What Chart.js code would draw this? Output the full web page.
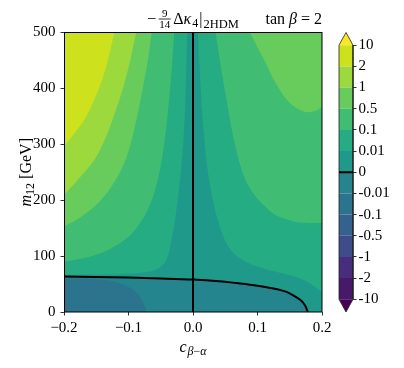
<!DOCTYPE html>
<html lang="en">
<head>
<meta charset="UTF-8">
<title>Delta kappa4 contour</title>
<script src="https://cdn.jsdelivr.net/npm/chart.js@4.4.1/dist/chart.umd.min.js"></script>
<style>
  body { margin: 0; background: #fff; }
  .wrap { position: relative; width: 404px; height: 368px; }
  #main { position: absolute; left: 0; top: 0; }
  #cbar { position: absolute; left: 330px; top: 0; }
</style>
</head>
<body>
<div class="wrap">
  <canvas id="main" width="404" height="368"></canvas>
  <canvas id="cbar" width="74" height="368"></canvas>
</div>
<script>
// contour levels (colorbar tick labels) and band colours from bottom to top
const levelLabels = ['-10', '-2', '-1', '-0.5', '-0.1', '-0.01', '0', '0.01', '0.1', '0.5', '1', '2', '10'];
const bandColors = ['#440154', '#48186a', '#472d7b', '#3e4c8a', '#34618d', '#2c738e', '#25858e',
                    '#1f9a8a', '#25ac82', '#40bd72', '#67cc5c', '#9bd93c', '#cde11d', '#fde725'];

// axis ticks
const xTicks = [-0.2, -0.1, 0, 0.1, 0.2];
const xTickLabels = ['\u22120.2', '\u22120.1', '0.0', '0.1', '0.2'];
const yTicks = [0, 100, 200, 300, 400, 500];
const yTickLabels = ['0', '100', '200', '300', '400', '500'];

// contour lines, [c_beta-alpha, m12]
const zeroLine = [[-0.2, 63.5], [-0.15, 62.5], [-0.1, 61.5], [-0.05, 60], [0, 58], [0.04, 55], [0.073, 51],
                  [0.1, 47], [0.125, 42], [0.145, 36], [0.158, 28], [0.168, 20], [0.174, 11], [0.178, 0]];
const zeroVertical = [[0, 0], [0, 500]];
const lvl001Left = [[-0.2, 66.5], [-0.13, 67.5], [-0.09, 69.5], [-0.065, 73], [-0.052, 79], [-0.044, 88],
                    [-0.039, 100], [-0.035, 118], [-0.031, 142], [-0.027, 172], [-0.023, 208], [-0.019, 250],
                    [-0.015, 305], [-0.012, 370], [-0.009, 500]];
const lvl01Left = [[-0.2, 90], [-0.16, 99], [-0.13, 112], [-0.105, 130], [-0.088, 150], [-0.075, 172],
                   [-0.064, 200], [-0.055, 235], [-0.048, 275], [-0.042, 325], [-0.037, 380], [-0.033, 435],
                   [-0.029, 500]];
const lvl05Left = [[-0.2, 153], [-0.174, 170], [-0.143, 200], [-0.117, 242], [-0.101, 284], [-0.088, 343],
                   [-0.078, 400], [-0.07, 450], [-0.064, 500]];
const lvl1Left = [[-0.2, 209], [-0.179, 236], [-0.153, 272], [-0.138, 305], [-0.125, 343], [-0.11, 395],
                  [-0.098, 447], [-0.088, 500]];
const lvl2Left = [[-0.2, 296], [-0.185, 318], [-0.169, 343], [-0.155, 375], [-0.142, 412], [-0.132, 450],
                  [-0.122, 500]];
const lvl001Right = [[0.0075, 500], [0.011, 420], [0.016, 330], [0.022, 260], [0.029, 210], [0.037, 170],
                     [0.046, 138], [0.056, 115], [0.068, 100], [0.085, 88], [0.109, 78], [0.135, 70],
                     [0.158, 63], [0.177, 54], [0.2, 36]];
const lvl01Right = [[0.035, 500], [0.043, 440], [0.052, 379], [0.063, 310], [0.075, 256], [0.086, 226],
                    [0.099, 204], [0.115, 185], [0.13, 172], [0.15, 164], [0.166, 160], [0.2, 159]];
const lvl05Right = [[0.088, 500], [0.109, 454], [0.13, 406], [0.151, 373], [0.174, 358], [0.19, 360], [0.2, 367]];
const lvlm001Left = [[-0.2, 60], [-0.16, 59], [-0.127, 56], [-0.11, 50], [-0.092, 39], [-0.082, 27],
                     [-0.077, 16], [-0.073, 6], [-0.072, 0]];
const lvlm01Left = [[-0.2, 8], [-0.197, 4], [-0.195, 0]];

const serif = '"Liberation Serif", "DejaVu Serif", serif';

function pts(list) { return list.map(p => ({ x: p[0], y: p[1] })); }

function band(list, color, fill) {
  return {
    data: pts(list), showLine: true, fill: fill, backgroundColor: color,
    borderColor: 'rgba(0,0,0,0)', borderWidth: 0, pointRadius: 0, tension: 0.35
  };
}
function line(list, tension) {
  return {
    data: pts(list), showLine: true, fill: false, borderColor: '#000', borderWidth: 2,
    pointRadius: 0, tension: tension
  };
}

// paint order, bottom first
const layers = [
  band([[-0.2, 500], [0.2, 500]], bandColors[6], 'start'),
  band(zeroLine.concat([[0.2, 0]]), bandColors[7], 'end'),
  band(lvl001Left, bandColors[8], 'end'),
  band(lvl001Right, bandColors[8], 'end'),
  band(lvl01Left, bandColors[9], 'end'),
  band(lvl01Right, bandColors[9], 'end'),
  band(lvl05Left, bandColors[10], 'end'),
  band(lvl05Right, bandColors[10], 'end'),
  band(lvl1Left, bandColors[11], 'end'),
  band(lvl2Left, bandColors[12], 'end'),
  band(lvlm001Left, bandColors[5], 'start'),
  band(lvlm01Left, bandColors[4], 'start'),
  line(zeroLine, 0.35),
  line(zeroVertical, 0)
];
layers.forEach((d, i) => { d.order = layers.length - i; });

// small helper to lay out text pieces with sub/superscripts on the canvas
function drawRuns(ctx, items, x, y, align) {
  let w = 0;
  items.forEach(it => {
    ctx.font = (it.it ? 'italic ' : '') + it.f + 'px ' + serif;
    if (it.frac) {
      it.w = Math.max(ctx.measureText(it.frac[0]).width, ctx.measureText(it.frac[1]).width) + 2;
    } else {
      it.w = ctx.measureText(it.t).width;
    }
    w += it.w + (it.gap || 0);
  });
  let cx = align === 'center' ? x - w / 2 : align === 'right' ? x - w : x;
  ctx.textBaseline = 'alphabetic';
  ctx.textAlign = 'left';
  ctx.fillStyle = '#000';
  items.forEach(it => {
    ctx.font = (it.it ? 'italic ' : '') + it.f + 'px ' + serif;
    if (it.frac) {
      const bar = y - 5;
      const n = ctx.measureText(it.frac[0]).width, d = ctx.measureText(it.frac[1]).width;
      ctx.fillText(it.frac[0], cx + (it.w - n) / 2, bar - 2);
      ctx.fillText(it.frac[1], cx + (it.w - d) / 2, bar + 9);
      ctx.fillRect(cx + 0.5, bar - 0.4, it.w - 1, 0.8);
    } else {
      ctx.fillText(it.t, cx, y + (it.dy || 0));
    }
    cx += it.w + (it.gap || 0);
  });
}

const annotate = {
  id: 'annotate',
  afterDraw(chart) {
    const { ctx, chartArea: a } = chart;
    ctx.save();
    ctx.strokeStyle = '#000';
    ctx.lineWidth = 1;
    ctx.strokeRect(a.left + 0.5, a.top, a.right - a.left - 0.5, a.bottom - a.top);
    const mid = (a.left + a.right) / 2;
    drawRuns(ctx, [
      { t: '\u2212', f: 16, gap: 2 },
      { frac: ['9', '14'], f: 11, gap: 2 },
      { t: '\u0394', f: 16 },
      { t: '\u03ba', f: 16, it: true, gap: 1 },
      { t: '4', f: 12, dy: 3, gap: 1 },
      { t: '|', f: 16, gap: 1 },
      { t: '2HDM', f: 12.5, dy: 4 }
    ], mid, 24, 'center');
    drawRuns(ctx, [
      { t: 'tan ', f: 16 },
      { t: '\u03b2', f: 16, it: true },
      { t: ' = 2', f: 16 }
    ], a.right, 24, 'right');
    drawRuns(ctx, [
      { t: 'c', f: 16, it: true, gap: 1 },
      { t: '\u03b2', f: 12, it: true, dy: 3 },
      { t: '\u2212', f: 12, dy: 3 },
      { t: '\u03b1', f: 12, it: true, dy: 3 }
    ], mid, 352, 'center');
    ctx.translate(31, (a.top + a.bottom) / 2);
    ctx.rotate(-Math.PI / 2);
    drawRuns(ctx, [
      { t: 'm', f: 16, it: true },
      { t: '12', f: 12, dy: 3 },
      { t: ' [GeV]', f: 16 }
    ], 0, 0, 'center');
    ctx.restore();
  }
};

const tickGrid = { display: true, drawOnChartArea: false, drawTicks: true, tickLength: 3.5, tickColor: '#000', tickWidth: 0.8 };

new Chart(document.getElementById('main'), {
  type: 'scatter',
  data: { datasets: layers },
  options: {
    responsive: false,
    animation: false,
    events: [],
    layout: { padding: { left: 0, top: 32.5, right: 82, bottom: 0 } },
    plugins: { legend: { display: false }, tooltip: { enabled: false } },
    scales: {
      x: {
        type: 'linear', min: -0.2, max: 0.2,
        afterBuildTicks: s => { s.ticks = xTicks.map(v => ({ value: v })); },
        afterFit: s => { s.height = 56; },
        ticks: { callback: (v, i) => xTickLabels[i], color: '#000', font: { family: serif, size: 15 }, padding: 4, maxRotation: 0, autoSkip: false },
        grid: tickGrid,
        border: { display: false }
      },
      y: {
        type: 'linear', min: 0, max: 500,
        afterBuildTicks: s => { s.ticks = yTicks.map(v => ({ value: v })); },
        afterFit: s => { s.width = 64; },
        ticks: { callback: (v, i) => yTickLabels[i], color: '#000', font: { family: serif, size: 15 }, padding: 5, autoSkip: false },
        grid: tickGrid,
        border: { display: false }
      }
    }
  },
  plugins: [annotate]
});

// colorbar: 12 equal bands plus the two extension triangles
const cbSets = levelLabels.slice(1).map((_, k) => ({
  data: [{ x: 0, y: k + 1 }, { x: 1, y: k + 1 }], showLine: true, fill: { value: k },
  backgroundColor: bandColors[k + 1], borderColor: 'rgba(0,0,0,0)', borderWidth: 0, pointRadius: 0
}));
cbSets.push({
  data: [{ x: 0, y: 12 }, { x: 0.5, y: 12.6 }, { x: 1, y: 12 }], showLine: true, fill: { value: 12 },
  backgroundColor: bandColors[13], borderColor: 'rgba(0,0,0,0)', borderWidth: 0, pointRadius: 0
});
cbSets.push({
  data: [{ x: 0, y: 0 }, { x: 0.5, y: -0.6 }, { x: 1, y: 0 }], showLine: true, fill: { value: 0 },
  backgroundColor: bandColors[0], borderColor: 'rgba(0,0,0,0)', borderWidth: 0, pointRadius: 0
});
// zero contour on the colorbar and the outline
cbSets.push({ data: [{ x: 0, y: 6 }, { x: 1, y: 6 }], showLine: true, fill: false, borderColor: '#000', borderWidth: 2, pointRadius: 0, order: -2 });
cbSets.push({
  data: [{ x: 0, y: 0 }, { x: 0, y: 12 }, { x: 0.5, y: 12.6 }, { x: 1, y: 12 }, { x: 1, y: 0 }, { x: 0.5, y: -0.6 }, { x: 0, y: 0 }],
  showLine: true, fill: false, borderColor: '#222', borderWidth: 0.8, pointRadius: 0, clip: false, order: -1
});

new Chart(document.getElementById('cbar'), {
  type: 'scatter',
  data: { datasets: cbSets },
  options: {
    responsive: false,
    animation: false,
    events: [],
    layout: { padding: { left: 9, top: 32.5, right: 0, bottom: 56 } },
    plugins: { legend: { display: false }, tooltip: { enabled: false } },
    scales: {
      x: { type: 'linear', min: 0, max: 1, display: false },
      y: {
        type: 'linear', position: 'right', min: -0.6, max: 12.6,
        afterBuildTicks: s => { s.ticks = levelLabels.map((_, i) => ({ value: i })); },
        afterFit: s => { s.width = 51; },
        ticks: { callback: (v, i) => levelLabels[i], color: '#000', font: { family: serif, size: 15 }, padding: 2, autoSkip: false },
        grid: tickGrid,
        border: { display: false }
      }
    }
  }
});
</script>
</body>
</html>
